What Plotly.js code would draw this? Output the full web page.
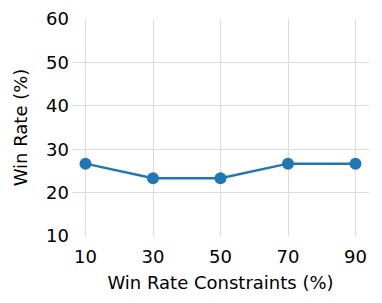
<!DOCTYPE html>
<html>
<head>
<meta charset="utf-8">
<script src="https://cdn.plot.ly/plotly-3.0.1.min.js"></script>
<style>html,body{margin:0;padding:0;background:#fff;}#chart{width:382px;height:303px;}</style>
</head>
<body>
<div id="chart"></div>
<script>
const constraints = [10, 30, 50, 70, 90];
const winRates = [26.67, 23.33, 23.33, 26.67, 26.67];
const xTickLabels = ['10', '30', '50', '70', '90'];
const yTicks = [10, 20, 30, 40, 50, 60];

const font = {family: 'DejaVu Sans, sans-serif', size: 18, color: '#000'};

Plotly.newPlot('chart', [{
  x: constraints,
  y: winRates,
  type: 'scatter',
  mode: 'lines+markers',
  line: {color: '#1f77b4', width: 2.5},
  marker: {color: '#1f77b4', size: 12},
  showlegend: false
}], {
  width: 382, height: 303,
  margin: {l: 72, r: 13, t: 19, b: 67},
  paper_bgcolor: '#fff', plot_bgcolor: '#fff',
  font: font,
  xaxis: {
    range: [6, 94],
    tickvals: constraints,
    ticktext: xTickLabels,
    showgrid: true, gridcolor: '#dcdcdc', gridwidth: 1,
    zeroline: false, showline: false, ticks: '',
    ticklabelstandoff: 8,
    tickfont: font,
    title: {text: 'Win Rate Constraints (%)', font: font, standoff: 10}
  },
  yaxis: {
    range: [10, 60],
    tickvals: yTicks,
    showgrid: true, gridcolor: '#dcdcdc', gridwidth: 1,
    zeroline: false, showline: false, ticks: '',
    ticklabelstandoff: 2,
    tickfont: font,
    title: {text: 'Win Rate (%)', font: font, standoff: 13}
  }
}, {displayModeBar: false, staticPlot: true});
</script>
</body>
</html>
